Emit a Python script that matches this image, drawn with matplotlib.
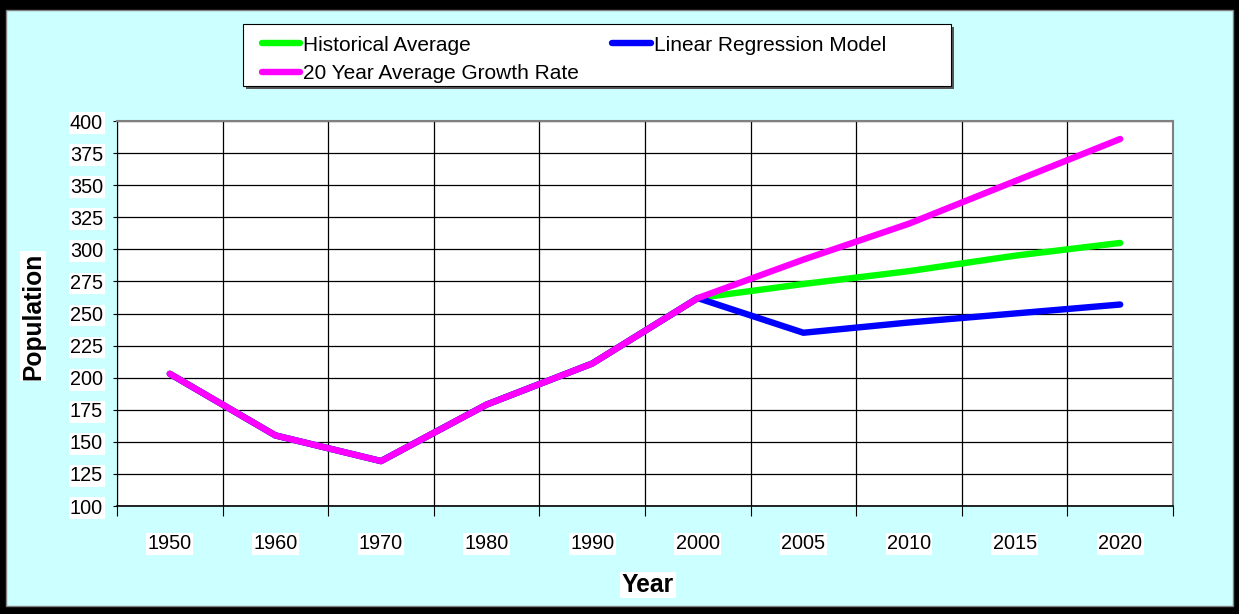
import matplotlib.pyplot as plt
from matplotlib.patches import Rectangle
from matplotlib.lines import Line2D
import numpy as np

plt.rcParams['font.family'] = ['Liberation Sans', 'DejaVu Sans']

# Census values and three projections out to 2020
years = ['1950', '1960', '1970', '1980', '1990', '2000', '2005', '2010', '2015', '2020']
history = [203, 155, 135, 179, 211, 262]
historical_avg = [273, 283, 295, 305]
linear_regression = [235, 243, 250, 257]
growth_rate_20yr = [292, 320, 353, 386]

x = np.arange(len(years))

fig = plt.figure(figsize=(12.39, 6.14), dpi=100)
fig.patch.set_facecolor('black')
# cyan chart area inside the black frame
fig.patches.append(Rectangle((6 / 1239, 8 / 614), 1227 / 1239, 596 / 614,
                             transform=fig.transFigure, facecolor='#CCFFFF',
                             edgecolor='#808080', lw=1, zorder=-5))

ax = fig.add_axes([117 / 1239, 1 - 506 / 614, 1056 / 1239, 385 / 614])
ax.set_facecolor('white')

series = [
    ('Historical Average', history + historical_avg, '#00FF00'),
    ('Linear Regression Model', history + linear_regression, '#0000FF'),
    ('20 Year Average Growth Rate', history + growth_rate_20yr, '#FF00FF'),
]
for name, vals, col in series:
    ax.plot(x, vals, color=col, lw=4.6, solid_capstyle='round',
            solid_joinstyle='round', zorder=3)

ax.set_xlim(-0.5, len(years) - 0.5)
ax.set_ylim(100, 400)

# category boundaries carry the ticks and vertical grid, centers carry labels
ax.set_xticks(np.arange(-0.5, len(years)))
ax.set_xticklabels([])
ax.set_xticks(x, minor=True)
ax.set_xticklabels(years, minor=True, fontsize=14.3)
ax.tick_params(axis='x', which='major', direction='out', length=7, width=0.8, color='black')
ax.tick_params(axis='x', which='minor', length=0, pad=20.5)

ax.set_yticks(np.arange(100, 401, 25))
ax.tick_params(axis='y', direction='out', length=3, width=0.8, pad=7, labelsize=14.3)

for lab in ax.get_yticklabels() + ax.get_xticklabels(minor=True):
    lab.set_bbox(dict(facecolor='white', edgecolor='none', pad=1))

ax.grid(True, which='major', color='black', lw=0.9, zorder=1)
ax.set_axisbelow(True)

ax.spines['left'].set_color('black')
ax.spines['bottom'].set_color('black')
ax.spines['bottom'].set_linewidth(1.2)
ax.spines['top'].set_color('#808080')
ax.spines['right'].set_color('#808080')
ax.spines['top'].set_linewidth(1.5)
ax.spines['right'].set_linewidth(1.5)

fig.text(33 / 1239, 1 - 316 / 614, 'Population', rotation=90, ha='center', va='center',
         fontsize=17.7, fontweight='bold',
         bbox=dict(facecolor='white', edgecolor='none', pad=1))
fig.text(648 / 1239, 1 - 585 / 614, 'Year', ha='center', va='center',
         fontsize=17.7, fontweight='bold',
         bbox=dict(facecolor='white', edgecolor='none', pad=1))

# legend box with a small drop shadow
fig.patches.append(Rectangle((246 / 1239, 1 - 89 / 614), 708 / 1239, 62 / 614,
                             transform=fig.transFigure, facecolor='#555555',
                             edgecolor='none', zorder=1))
fig.patches.append(Rectangle((243 / 1239, 1 - 86 / 614), 708 / 1239, 62 / 614,
                             transform=fig.transFigure, facecolor='white',
                             edgecolor='black', lw=0.8, zorder=2))
handles = [Line2D([], [], color=c, lw=4.6, solid_capstyle='round') for _, _, c in series]
labels = [n for n, _, _ in series]
order = [0, 2, 1]
fig.legend([handles[i] for i in order], [labels[i] for i in order], ncol=2,
           loc='upper left', bbox_to_anchor=(247 / 1239, 1 - 21 / 614),
           frameon=False, fontsize=15, handlelength=1.85, handletextpad=0.15,
           columnspacing=1.6, labelspacing=0.45, borderpad=0.2)

fig.savefig('out.png', dpi=100, facecolor=fig.get_facecolor())
